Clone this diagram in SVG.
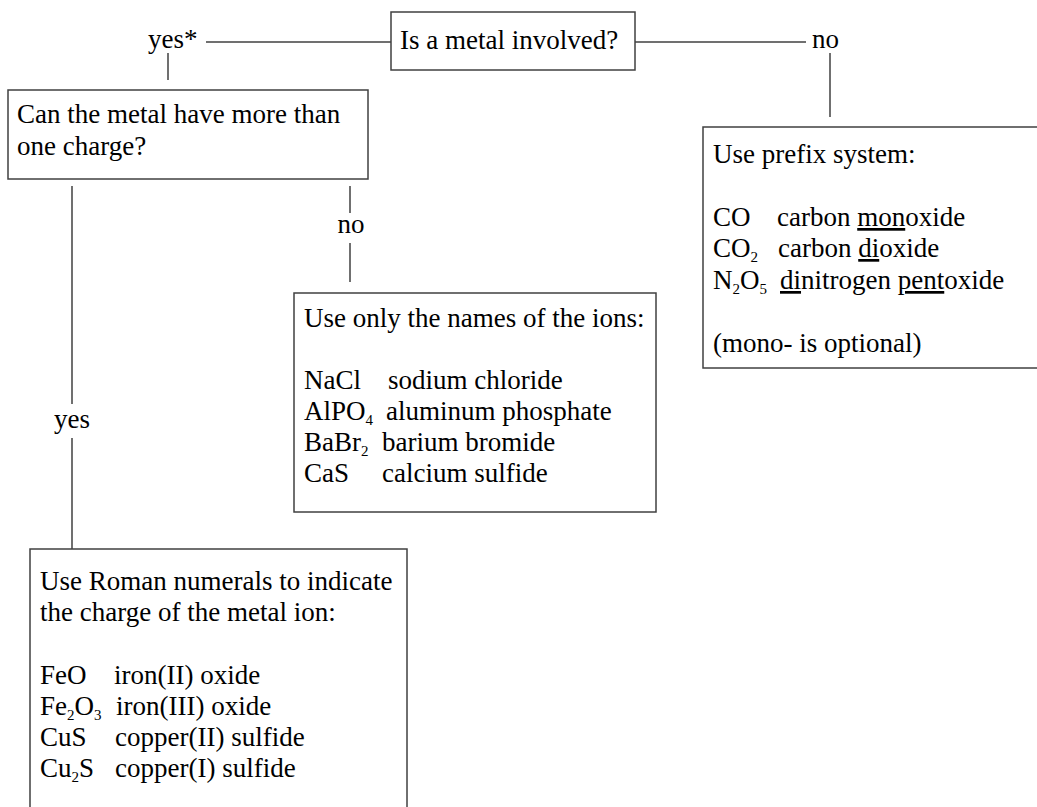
<svg xmlns="http://www.w3.org/2000/svg" width="1037" height="807" viewBox="0 0 1037 807">
<style>
.box{fill:#fff;stroke:#404040;stroke-width:1.5}
.ln{stroke:#404040;stroke-width:1.5;fill:none}
text{font-family:"Liberation Serif","Times New Roman",serif;font-size:27px;fill:#000}
.sub{font-size:15px}
.u{text-decoration:underline}
.mid{text-anchor:middle}
</style>
<rect width="1037" height="807" fill="#fff"/>
<g id="connectors">
<line class="ln" x1="206" y1="42" x2="391" y2="42"/>
<line class="ln" x1="635" y1="42" x2="806" y2="42"/>
<line class="ln" x1="168" y1="53" x2="168" y2="80"/>
<line class="ln" x1="830" y1="53" x2="830" y2="117"/>
<line class="ln" x1="350" y1="186" x2="350" y2="213"/>
<line class="ln" x1="350" y1="243" x2="350" y2="282"/>
<line class="ln" x1="72" y1="186" x2="72" y2="404"/>
<line class="ln" x1="72" y1="438" x2="72" y2="549"/>
<text x="148" y="48">yes*</text>
<text x="812" y="48">no</text>
<text class="mid" x="351" y="233">no</text>
<text class="mid" x="72" y="428">yes</text>
</g>
<g id="q-metal">
<rect class="box" x="391" y="12" width="244" height="58"/>
<text x="400" y="49">Is a metal involved?</text>
</g>
<g id="q-charge">
<rect class="box" x="8" y="90" width="360" height="89"/>
<text x="17" y="123">Can the metal have more than</text>
<text x="17" y="155">one charge?</text>
</g>
<g id="prefix">
<rect class="box" x="703" y="127" width="345" height="241"/>
<text x="713" y="163">Use prefix system:</text>
<text x="713" y="226">CO</text>
<text x="777" y="226">carbon <tspan class="u">mon</tspan>oxide</text>
<text x="713" y="257">CO<tspan class="sub" dy="5">2</tspan></text>
<text x="778" y="257">carbon <tspan class="u">di</tspan>oxide</text>
<text x="713" y="289">N<tspan class="sub" dy="5">2</tspan><tspan dy="-5">O</tspan><tspan class="sub" dy="5">5</tspan></text>
<text x="780" y="289"><tspan class="u">di</tspan>nitrogen <tspan class="u">pent</tspan>oxide</text>
<text x="713" y="352">(mono- is optional)</text>
</g>
<g id="ions">
<rect class="box" x="294" y="293" width="362" height="219"/>
<text x="304" y="327">Use only the names of the ions:</text>
<text x="304" y="389">NaCl</text>
<text x="388" y="389">sodium chloride</text>
<text x="304" y="420">AlPO<tspan class="sub" dy="5">4</tspan></text>
<text x="386" y="420">aluminum phosphate</text>
<text x="304" y="451">BaBr<tspan class="sub" dy="5">2</tspan></text>
<text x="382" y="451">barium bromide</text>
<text x="304" y="482">CaS</text>
<text x="382" y="482">calcium sulfide</text>
</g>
<g id="roman">
<rect class="box" x="30" y="549" width="377" height="272"/>
<text x="40" y="590">Use Roman numerals to indicate</text>
<text x="40" y="621">the charge of the metal ion:</text>
<text x="40" y="684">FeO</text>
<text x="114" y="684">iron(II) oxide</text>
<text x="40" y="715">Fe<tspan class="sub" dy="5">2</tspan><tspan dy="-5">O</tspan><tspan class="sub" dy="5">3</tspan></text>
<text x="116" y="715">iron(III) oxide</text>
<text x="40" y="746">CuS</text>
<text x="115" y="746">copper(II) sulfide</text>
<text x="40" y="777">Cu<tspan class="sub" dy="5">2</tspan><tspan dy="-5">S</tspan></text>
<text x="115" y="777">copper(I) sulfide</text>
</g>
</svg>
